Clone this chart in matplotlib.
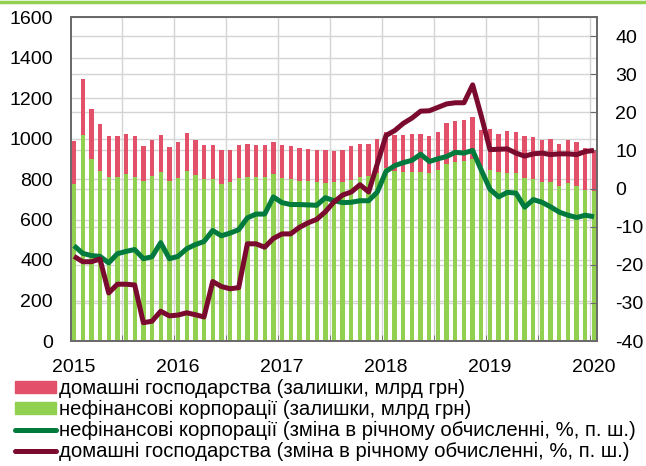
import matplotlib.pyplot as plt
import numpy as np
from matplotlib.lines import Line2D
from matplotlib.patches import Patch

plt.rcParams['font.family'] = ['Liberation Sans', 'DejaVu Sans']
plt.rcParams['axes.unicode_minus'] = False

# monthly, Jan 2015 .. Jan 2020
years = ['2015', '2016', '2017', '2018', '2019', '2020']

# stocks, bn UAH (left axis)
corp_stock = [777, 1015, 898, 839, 811, 811, 823, 811, 791, 816, 834, 788,
              806, 841, 821, 801, 798, 777, 783, 806, 811, 808, 808, 823,
              806, 800, 791, 788, 785, 782, 783, 783, 795, 808, 813, 830,
              854, 840, 837, 837, 837, 829, 846, 875, 883, 888, 898, 862,
              846, 835, 832, 829, 805, 800, 787, 785, 765, 782, 766, 745,
              741]
hh_stock = [211, 281, 250, 233, 202, 201, 200, 201, 171, 176, 182, 171,
            178, 184, 174, 169, 168, 165, 159, 163, 163, 161, 161, 161,
            163, 161, 161, 158, 156, 159, 156, 158, 166, 166, 161, 170,
            178, 176, 181, 183, 184, 181, 184, 201, 202, 202, 207, 181,
            199, 187, 206, 201, 207, 209, 206, 211, 208, 211, 215, 206,
            204]

# year-on-year change, % (right axis)
corp_yoy = [-15.0, -17.0, -17.6, -17.8, -19.5, -17.1, -16.5, -16.0, -18.4, -17.9, -14.2, -18.4,
            -17.8, -15.8, -14.7, -13.9, -11.0, -12.4, -11.7, -10.8, -7.7, -6.7, -6.7, -2.2,
            -3.7, -4.2, -4.2, -4.3, -4.4, -2.4, -3.2, -3.7, -3.6, -3.2, -3.2, -0.9,
            4.5, 6.0, 6.8, 7.4, 9.0, 7.1, 7.8, 8.4, 9.5, 9.3, 10.0, 4.8,
            -0.2, -2.2, -1.0, -1.2, -4.9, -2.9, -3.6, -4.8, -6.2, -7.0, -7.6, -7.0,
            -7.4]
hh_yoy = [-17.8, -19.2, -19.2, -18.5, -27.4, -25.1, -25.1, -25.3, -35.2, -34.8, -32.2, -33.4,
          -33.2, -32.6, -33.1, -33.7, -24.4, -25.7, -26.3, -26.0, -14.5, -14.5, -15.4, -13.1,
          -11.9, -11.9, -10.2, -9.0, -8.1, -6.1, -3.5, -1.7, -0.9, 1.0, -0.9, 6.5,
          13.9, 15.2, 17.1, 18.5, 20.3, 20.4, 21.3, 22.2, 22.5, 22.5, 27.2, 19.0,
          10.2, 10.3, 10.4, 9.3, 8.5, 9.1, 9.3, 8.9, 9.1, 9.1, 8.9, 9.7,
          10.0]

labels = ['домашні господарства (залишки, млрд грн)',
          'нефінансові корпорації (залишки, млрд грн)',
          'нефінансові корпорації (зміна в річному обчисленні, %, п. ш.)',
          'домашні господарства (зміна в річному обчисленні, %, п. ш.)']

c_red = '#E2506A'
c_lgreen = '#92D050'
c_dgreen = '#007A3D'
c_maroon = '#7A0A2E'
c_spine = '#6A6A6A'
c_grid = '#D4D4D4'

x = np.arange(len(corp_stock))

fig = plt.figure(figsize=(6.46, 4.66), dpi=100)
ax = fig.add_axes([71/646, 1-341/466, 526/646, 324/466])
ax2 = ax.twinx()

ax.bar(x, corp_stock, width=0.5, color=c_lgreen, zorder=2)
ax.bar(x, hh_stock, width=0.5, bottom=corp_stock, color=c_red, zorder=2)

ax2.plot(x, corp_yoy, color=c_dgreen, lw=3.6, solid_joinstyle='round', solid_capstyle='butt')
ax2.plot(x, hh_yoy, color=c_maroon, lw=3.6, solid_joinstyle='round', solid_capstyle='butt')

ax.set_xlim(-0.35, 60.35)
ax.set_ylim(0, 1600)
ax2.set_ylim(-40, 45)

# left ticks + gridlines of both scales
ax.set_yticks(range(0, 1601, 200))
right_ticks = list(range(-40, 41, 10))
ax.set_yticks([(r + 40) * 1600 / 85 for r in right_ticks], minor=True)
ax.yaxis.set_minor_formatter(plt.NullFormatter())
ax2.set_yticks(right_ticks)

ax.set_xticks(np.arange(0, 61, 12))
ax.set_xticklabels(years)
ax.set_xticks(np.arange(5.5, 61, 6), minor=True)

ax.set_axisbelow(True)
ax.grid(axis='y', which='both', color=c_grid, lw=1)
ax.grid(axis='x', which='minor', color=c_grid, lw=1)

ax.tick_params(axis='y', which='both', length=0, pad=13, labelsize=14)
ax.tick_params(axis='x', which='major', length=0, pad=13, labelsize=14)
ax.tick_params(axis='x', which='minor', direction='in', length=4, color=c_spine)
ax2.tick_params(axis='y', direction='in', length=5, pad=13, labelsize=14, color=c_spine)

for a in (ax, ax2):
    for s in a.spines.values():
        s.set_color(c_spine)
        s.set_linewidth(1.3)

# thin green rule at the very top
fig.add_artist(Line2D([0, 1], [1 - 1.5/466] * 2, transform=fig.transFigure,
                      color=c_lgreen, lw=2.5))

handles = [Patch(color=c_red), Patch(color=c_lgreen),
           Line2D([], [], color=c_dgreen, lw=3.6, solid_capstyle='round'),
           Line2D([], [], color=c_maroon, lw=3.6, solid_capstyle='round')]
fig.legend(handles, labels, loc='upper left', bbox_to_anchor=(15/646, 1 - 379/466),
           frameon=False, borderpad=0, borderaxespad=0, fontsize=14.6,
           handlelength=2.0, handleheight=0.5, handletextpad=0.15, labelspacing=0.1)

fig.savefig('out.png', dpi=100)
